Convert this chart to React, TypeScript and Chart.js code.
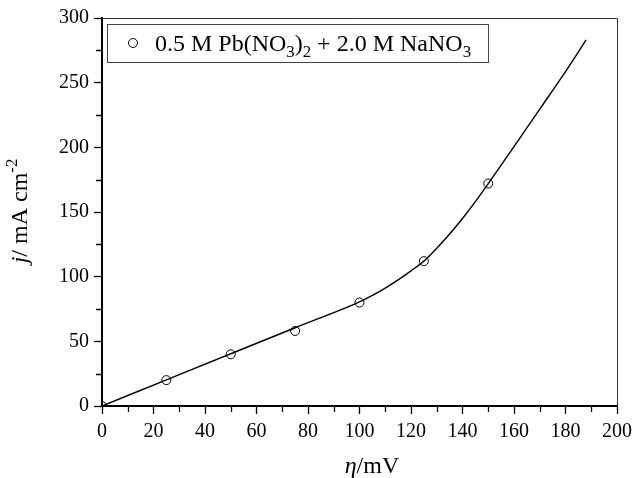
import React, { useEffect, useRef } from "react";
import { Chart, registerables } from "chart.js";

Chart.register(...registerables);

const measuredEta = [0, 25, 50, 75, 100, 125, 150];
const measuredJ = [0, 20, 40, 58, 80, 112, 172];
const fitEta = [0, 25, 50, 75, 100, 105, 110, 115, 120, 125, 130, 135, 140, 145, 150, 155, 160, 170, 180, 188];
const fitJ = [0, 20.2, 40.4, 60.5, 80.5, 85.5, 91.2, 97.5, 104.5, 112, 122, 133, 145, 158, 172, 186.2, 200.5, 229.5, 258.5, 283];
const xMinorTicks = [10, 30, 50, 70, 90, 110, 130, 150, 170, 190];
const yMinorTicks = [25, 75, 125, 175, 225, 275];

const FONT = '"Liberation Serif", "Times New Roman", serif';

type Seg = { t: string; it?: boolean; sub?: boolean; sup?: boolean };

function richWidth(ctx: CanvasRenderingContext2D, segs: Seg[], size: number) {
  let w = 0;
  for (const s of segs) {
    const fs = s.sub || s.sup ? size * 0.7 : size;
    ctx.font = `${s.it ? "italic " : ""}${fs}px ${FONT}`;
    w += ctx.measureText(s.t).width;
  }
  return w;
}

function drawRich(ctx: CanvasRenderingContext2D, segs: Seg[], x: number, y: number, size: number) {
  let cx = x;
  ctx.textBaseline = "alphabetic";
  ctx.textAlign = "left";
  for (const s of segs) {
    const fs = s.sub || s.sup ? size * 0.7 : size;
    ctx.font = `${s.it ? "italic " : ""}${fs}px ${FONT}`;
    const dy = s.sub ? size * 0.25 : s.sup ? -size * 0.4 : 0;
    ctx.fillText(s.t, cx, y + dy);
    cx += ctx.measureText(s.t).width;
  }
}

const legendSegs: Seg[] = [
  { t: "0.5 M Pb(NO" },
  { t: "3", sub: true },
  { t: ")" },
  { t: "2", sub: true },
  { t: " + 2.0 M NaNO" },
  { t: "3", sub: true },
];
const xTitleSegs: Seg[] = [{ t: "η", it: true }, { t: "/mV" }];
const yTitleSegs: Seg[] = [{ t: "j", it: true }, { t: "/ mA cm" }, { t: "-2", sup: true }];

const decorPlugin = {
  id: "decor",
  afterDraw(chart: any) {
    const ctx: CanvasRenderingContext2D = chart.ctx;
    const { left, right, top, bottom } = chart.chartArea;
    const xs = chart.scales.x;
    const ys = chart.scales.y;
    ctx.save();
    // frame top/right
    ctx.strokeStyle = "#333";
    ctx.lineWidth = 1;
    ctx.beginPath();
    ctx.moveTo(left, top + 0.5);
    ctx.lineTo(right + 0.5, top + 0.5);
    ctx.lineTo(right + 0.5, bottom);
    ctx.stroke();
    // minor ticks
    ctx.strokeStyle = "#000";
    ctx.lineWidth = 1.3;
    ctx.beginPath();
    for (const v of xMinorTicks) {
      const px = Math.round(xs.getPixelForValue(v)) + 0.5;
      ctx.moveTo(px, bottom);
      ctx.lineTo(px, bottom + 6);
    }
    for (const v of yMinorTicks) {
      const py = Math.round(ys.getPixelForValue(v)) + 0.5;
      ctx.moveTo(left, py);
      ctx.lineTo(left - 6, py);
    }
    ctx.stroke();
    // legend
    const lx = left + 5, ly = top + 6, lw = 381, lh = 38;
    ctx.fillStyle = "#fff";
    ctx.fillRect(lx, ly, lw, lh);
    ctx.strokeStyle = "#444";
    ctx.lineWidth = 1;
    ctx.strokeRect(lx + 0.5, ly + 0.5, lw, lh);
    ctx.beginPath();
    ctx.arc(lx + 26, ly + 19, 4.5, 0, Math.PI * 2);
    ctx.strokeStyle = "#000";
    ctx.stroke();
    ctx.fillStyle = "#000";
    drawRich(ctx, legendSegs, lx + 48, ly + 27, 24);
    // x title
    const xw = richWidth(ctx, xTitleSegs, 24);
    drawRich(ctx, xTitleSegs, 372 - xw / 2, 473, 24);
    // y title
    const yw = richWidth(ctx, yTitleSegs, 24);
    ctx.translate(27, 211);
    ctx.rotate(-Math.PI / 2);
    drawRich(ctx, yTitleSegs, -yw / 2, 0, 24);
    ctx.restore();
  },
};

export default function App() {
  const ref = useRef<HTMLCanvasElement | null>(null);
  useEffect(() => {
    document.body.style.margin = "0";
    const chart = new Chart(ref.current!, {
      type: "scatter",
      data: {
        datasets: [
          {
            label: "fit",
            data: fitEta.map((x, i) => ({ x, y: fitJ[i] })),
            showLine: true,
            borderColor: "#000",
            borderWidth: 1.4,
            pointRadius: 0,
            cubicInterpolationMode: "monotone",
          } as any,
          {
            label: "0.5 M Pb(NO3)2 + 2.0 M NaNO3",
            data: measuredEta.map((x, i) => ({ x, y: measuredJ[i] })),
            showLine: false,
            pointRadius: 4.5,
            pointBorderColor: "#000",
            pointBackgroundColor: "rgba(0,0,0,0)",
            pointBorderWidth: 1,
          },
        ],
      },
      options: {
        responsive: false,
        animation: false,
        layout: { padding: { left: 0, right: 16, top: 18, bottom: 0 } },
        plugins: { legend: { display: false }, tooltip: { enabled: false } },
        scales: {
          x: {
            type: "linear",
            min: 0,
            max: 200,
            border: { color: "#000", width: 2 },
            grid: { drawOnChartArea: false, tickLength: 8, tickColor: "#000", tickWidth: 1.3 },
            ticks: { stepSize: 20, color: "#000", padding: 6, font: { family: FONT, size: 20 }, maxRotation: 0 },
            afterFit: (s: any) => { s.height = 72; },
          },
          y: {
            type: "linear",
            min: 0,
            max: 300,
            border: { color: "#000", width: 2 },
            grid: { drawOnChartArea: false, tickLength: 8, tickColor: "#000", tickWidth: 1.3 },
            ticks: { stepSize: 50, color: "#000", padding: 5, font: { family: FONT, size: 20 } },
            afterFit: (s: any) => { s.width = 102; },
          },
        },
      },
      plugins: [decorPlugin],
    });
    return () => chart.destroy();
  }, []);
  return <canvas ref={ref} width={638} height={478} style={{ display: "block" }} />;
}
